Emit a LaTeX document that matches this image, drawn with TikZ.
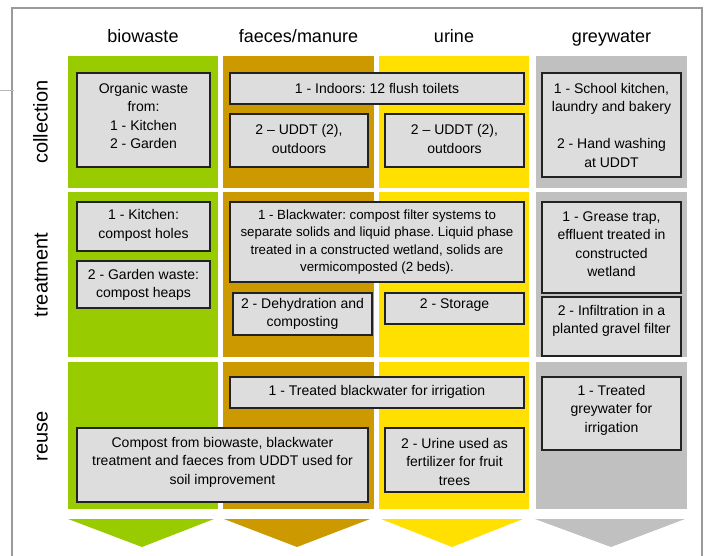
\documentclass[tikz,border=0pt]{standalone}
\usepackage{fontspec}
\setmainfont{Liberation Sans}
\usetikzlibrary{fit}
\definecolor{cgreen}{HTML}{99CC00}
\definecolor{cbrown}{HTML}{CC9900}
\definecolor{cyellow}{HTML}{FFE000}
\definecolor{cgrey}{HTML}{C0C0C0}
\definecolor{boxfill}{HTML}{DDDDDD}
\definecolor{boxline}{HTML}{222222}
\definecolor{framec}{HTML}{9A9A9A}
\frenchspacing
\tikzset{
  box/.style={draw=boxline, fill=boxfill, line width=1.4pt, inner sep=0pt, rectangle},
  txt/.style={align=center, inner sep=0pt, font=\fontsize{14}{18.5}\selectfont},
  smalltxt/.style={align=center, inner sep=0pt, font=\fontsize{13.3}{17.3}\selectfont},
  head/.style={inner sep=0pt, anchor=base, font=\fontsize{18}{22}\selectfont},
  rowlab/.style={inner sep=0pt, rotate=90, anchor=base, font=\fontsize{20}{24}\selectfont},
  band/.style={draw=none, inner sep=0pt, rectangle},
}
\begin{document}
\begin{tikzpicture}[x=1pt,y=-1pt]
\useasboundingbox (0,0) rectangle (706,556);
% frame
\draw[framec, line width=1.5pt] (12,556) -- (12,8) -- (702,8) -- (702,556);
\draw[framec!70, line width=0.8pt] (0,90) -- (14,90);
% headers
\node[head] (h1) at (143,43) {biowaste};
\node[head] (h2) at (298.5,43) {faeces/manure};
\node[head] (h3) at (454,43) {urine};
\node[head] (h4) at (611.5,43) {greywater};
% row labels
\node[rowlab] (r1) at (47.5,122) {collection};
\node[rowlab] (r2) at (47.5,275) {treatment};
\node[rowlab] (r3) at (47.5,436) {reuse};
% colour bands
\foreach \ya/\yb/\n in {56/188/c, 192/357/t, 362/509/r}{
  \node[band, fill=cgreen, fit={(68,\ya) (218,\yb)}] (g\n) {};
  \node[band, fill=cbrown, fit={(223,\ya) (374,\yb)}] (b\n) {};
  \node[band, fill=cyellow, fit={(379,\ya) (529,\yb)}] (y\n) {};
  \node[band, fill=cgrey, fit={(536,\ya) (687,\yb)}] (s\n) {};
}
% arrows
\fill[cgreen] (68,519) -- (214,519) -- (142,547) -- cycle;
\fill[cbrown] (224,519) -- (370,519) -- (297,547) -- cycle;
\fill[cyellow] (381,519) -- (523,519) -- (452,547) -- cycle;
\fill[cgrey] (535,519) -- (685,519) -- (611,547) -- cycle;
% collection
\node[box, fit={(77,73) (210,167)}] (b1) {};
\node[txt] (t1) at (143.5,116) {Organic waste\\from:\\1 - Kitchen\\2 - Garden};
\node[box, fit={(230,73) (524,104)}] (b2) {};
\node[txt] (t2) at (377,88.5) {1 - Indoors: 12 flush toilets};
\node[box, fit={(230,114) (368,167)}] (b3) {};
\node[txt] (t3) at (299,139) {2 -- UDDT (2),\\outdoors};
\node[box, fit={(385,114) (524,167)}] (b4) {};
\node[txt] (t4) at (454.5,139) {2 -- UDDT (2),\\outdoors};
\node[box, fit={(542,73) (681,177)}] (b5) {};
\node[txt] (t5) at (611.5,125) {1 - School kitchen,\\laundry and bakery\\[18.5pt]2 - Hand washing\\at UDDT};
% treatment
\node[box, fit={(77,202) (210,251)}] (b6) {};
\node[txt] (t6) at (143.5,225.5) {1 - Kitchen:\\compost holes};
\node[box, fit={(77,261) (210,308)}] (b7) {};
\node[txt] (t7) at (143.5,285) {2 - Garden waste:\\compost heaps};
\node[box, fit={(230,202) (524,282)}] (b8) {};
\node[smalltxt] (t8) at (377,242) {1 - Blackwater: compost filter systems to\\separate solids and liquid phase. Liquid phase\\treated in a constructed wetland, solids are\\vermicomposted (2 beds).};
\node[box, fit={(233,293) (372,335)}] (b9) {};
\node[txt] (t9) at (302.5,314) {2 - Dehydration and\\composting};
\node[box, fit={(385,293) (524,324)}] (b10) {};
\node[txt] (t10) at (454.5,305) {2 - Storage};
\node[box, fit={(542,202) (681,293)}] (b11) {};
\node[txt] (t11) at (611.5,244) {1 - Grease trap,\\effluent treated in\\constructed\\wetland};
\node[box, fit={(542,297) (681,356)}] (b12) {};
\node[txt] (t12) at (611.5,321) {2 - Infiltration in a\\planted gravel filter};
% reuse
\node[box, fit={(230,377) (524,408)}] (b13) {};
\node[txt] (t13) at (377,392) {1 - Treated blackwater for irrigation};
\node[box, fit={(77,428) (368,502)}] (b14) {};
\node[txt] (t14) at (222.5,462) {Compost from biowaste, blackwater\\treatment and faeces from UDDT used for\\soil improvement};
\node[box, fit={(385,428) (524,492)}] (b15) {};
\node[txt] (t15) at (454.5,461.5) {2 - Urine used as\\fertilizer for fruit\\trees};
\node[box, fit={(542,377) (681,450)}] (b16) {};
\node[txt] (t16) at (611.5,410) {1 - Treated\\greywater for\\irrigation};
\end{tikzpicture}
\end{document}
